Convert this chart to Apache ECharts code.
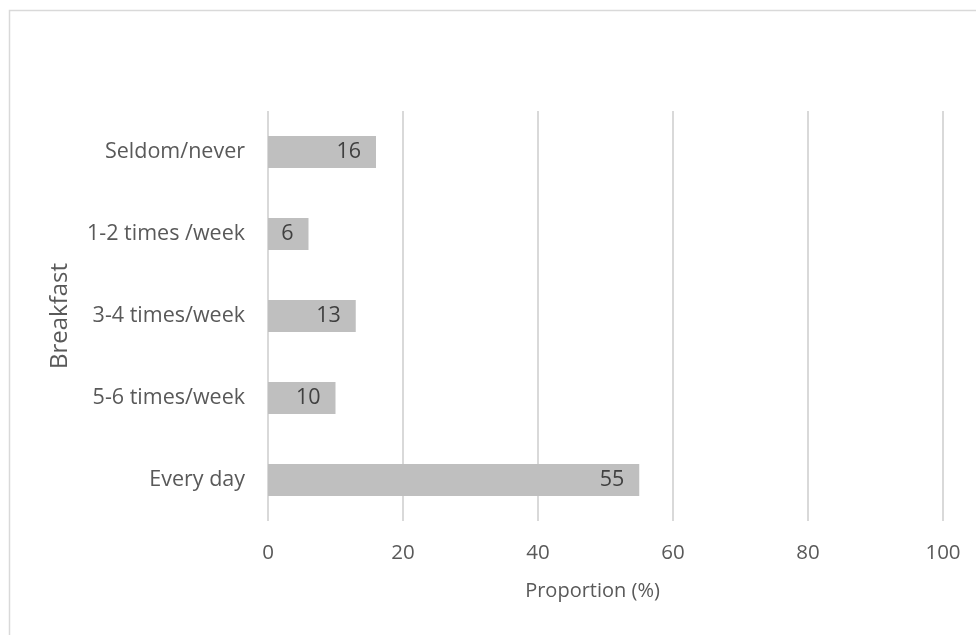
<!DOCTYPE html>
<html>
<head>
<meta charset="utf-8">
<script src="https://cdn.jsdelivr.net/npm/echarts@6/dist/echarts.min.js"></script>
<style>
  html, body { margin: 0; padding: 0; background: #fff; }
  #chart { width: 976px; height: 635px; }
</style>
</head>
<body>
<div id="chart"></div>
<script>
// categories listed bottom -> top (category axis on y grows upward)
const categories = ['Every day', '5-6 times/week', '3-4 times/week', '1-2 times /week', 'Seldom/never'];
const proportions = [55, 10, 13, 6, 16];
const xTicks = [0, 20, 40, 60, 80, 100];

const FONT = '"Open Sans", sans-serif';
const TEXT = '#595959';

const chart = echarts.init(document.getElementById('chart'), null, { renderer: 'canvas' });

chart.setOption({
  backgroundColor: '#fff',
  animation: false,
  textStyle: { fontFamily: FONT },
  graphic: [
    {
      type: 'rect',
      shape: { x: 9.5, y: 10.5, width: 980, height: 640 },
      style: { fill: 'none', stroke: '#d9d9d9', lineWidth: 1.5 },
      silent: true,
    },
  ],
  grid: { left: 268, right: 33, top: 111, bottom: 114 },
  xAxis: {
    type: 'value',
    min: xTicks[0],
    max: xTicks[xTicks.length - 1],
    interval: 20,
    name: 'Proportion (%)',
    nameLocation: 'middle',
    nameGap: 60,
    nameTextStyle: { color: TEXT, fontSize: 20, fontFamily: FONT, padding: [0, 26, 0, 0] },
    axisLine: { show: false },
    axisTick: { show: false },
    axisLabel: { color: TEXT, fontSize: 20.5, margin: 22, fontFamily: FONT },
    splitLine: { lineStyle: { color: '#d9d9d9', width: 2 } },
  },
  yAxis: {
    type: 'category',
    data: categories,
    name: 'Breakfast',
    nameLocation: 'middle',
    nameGap: 196,
    nameRotate: 90,
    nameTextStyle: { color: TEXT, fontSize: 24, fontFamily: FONT },
    axisLine: { show: false },
    axisTick: { show: false },
    axisLabel: { color: TEXT, fontSize: 21.5, margin: 23, fontFamily: FONT, padding: [6, 0, 0, 0] },
    splitLine: { show: false },
  },
  series: [
    {
      type: 'bar',
      data: proportions,
      barWidth: 32,
      itemStyle: { color: '#bfbfbf' },
      label: {
        show: true,
        position: 'insideRight',
        distance: 15,
        color: '#404040',
        fontSize: 21.5,
        fontFamily: FONT,
        padding: [4, 0, 0, 0],
      },
    },
  ],
});
</script>
</body>
</html>
